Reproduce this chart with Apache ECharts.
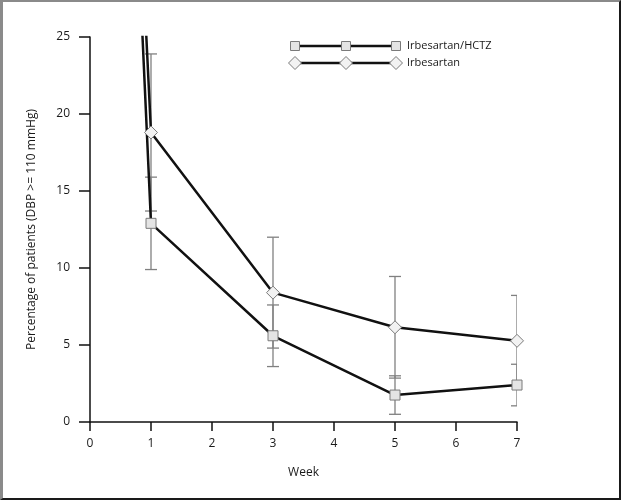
<!DOCTYPE html>
<html>
<head>
<meta charset="utf-8">
<script src="https://cdn.jsdelivr.net/npm/echarts@6/dist/echarts.min.js"></script>
<style>
html,body{margin:0;padding:0;background:#fff;}
#wrap{position:relative;width:621px;height:500px;}
#chart{width:621px;height:500px;}
#frame{position:absolute;left:0;top:0;right:0;bottom:0;box-sizing:border-box;border-left:3px solid #8a8a8a;border-top:2px solid #8a8a8a;border-right:2px solid #1a1a1a;border-bottom:2px solid #1a1a1a;pointer-events:none;}
</style>
</head>
<body>
<div id="wrap"><div id="chart"></div><div id="frame"></div></div>
<script>
var weeks = [0, 1, 3, 5, 7];
var hctzValues = [100, 12.9, 5.6, 1.75, 2.4];
var hctzErrors = [null, 3.0, 2.0, 1.25, 1.35];
var irbValues = [100, 18.8, 8.4, 6.15, 5.27];
var irbErrors = [null, 5.1, 3.6, 3.3, 2.95];
var xTicks = [0, 1, 2, 3, 4, 5, 6, 7];
var yTicks = [0, 5, 10, 15, 20, 25];
var seriesNames = ['Irbesartan/HCTZ', 'Irbesartan'];

var FONT = '"Open Sans", "DejaVu Sans", sans-serif';
var TEXT = '#1a1a1a';

function pairs(vals) { return weeks.map(function (w, i) { return [w, vals[i]]; }); }
function errData(vals, errs) {
  var out = [];
  weeks.forEach(function (w, i) { if (errs[i] != null) out.push([w, vals[i] - errs[i], vals[i] + errs[i]]); });
  return out;
}
function renderErr(params, api) {
  var x = api.value(0);
  var lo = api.coord([x, api.value(1)]);
  var hi = api.coord([x, api.value(2)]);
  var hw = 6;
  var st = { stroke: '#808080', lineWidth: 1.3 };
  return {
    type: 'group',
    children: [
      { type: 'line', shape: { x1: lo[0], y1: lo[1], x2: hi[0], y2: hi[1] }, style: st },
      { type: 'line', shape: { x1: lo[0] - hw, y1: lo[1], x2: lo[0] + hw, y2: lo[1] }, style: st },
      { type: 'line', shape: { x1: hi[0] - hw, y1: hi[1], x2: hi[0] + hw, y2: hi[1] }, style: st }
    ]
  };
}

function legendRow(y, symbol, label) {
  var els = [{ type: 'line', shape: { x1: 295, y1: y, x2: 396, y2: y }, style: { stroke: '#111', lineWidth: 2.5 } }];
  [295, 346, 396].forEach(function (x) {
    if (symbol === 'rect') {
      els.push({ type: 'rect', shape: { x: x - 4.5, y: y - 4.5, width: 9, height: 9 }, style: { fill: '#e4e4e4', stroke: '#7a7a7a', lineWidth: 1 } });
    } else {
      els.push({ type: 'polygon', shape: { points: [[x - 6.5, y], [x, y - 6.5], [x + 6.5, y], [x, y + 6.5]] }, style: { fill: '#f2f2f2', stroke: '#7a7a7a', lineWidth: 1 } });
    }
  });
  els.push({ type: 'text', style: { x: 407, y: y, text: label, fill: TEXT, font: '11px ' + FONT, textVerticalAlign: 'middle' } });
  return els;
}

var chart = echarts.init(document.getElementById('chart'), null, { renderer: 'canvas' });
chart.setOption({
  animation: false,
  backgroundColor: '#fff',
  grid: { left: 90, right: 104, top: 37, bottom: 78 },
  xAxis: {
    type: 'value', min: 0, max: 7, interval: 1,
    name: 'Week', nameLocation: 'middle', nameGap: 45,
    nameTextStyle: { color: TEXT, fontSize: 12, fontFamily: FONT },
    axisLine: { show: true, onZero: false, lineStyle: { color: '#111', width: 1.5 } },
    axisTick: { show: true, length: 9, lineStyle: { color: '#111', width: 1.5 } },
    axisLabel: { color: TEXT, fontSize: 12, fontFamily: FONT, margin: 16,
      formatter: function (v) { return xTicks.indexOf(v) >= 0 ? String(v) : ''; } },
    splitLine: { show: false }
  },
  yAxis: {
    type: 'value', min: 0, max: 25, interval: 5,
    name: 'Percentage of patients (DBP >= 110 mmHg)', nameLocation: 'middle', nameGap: 52,
    nameTextStyle: { color: TEXT, fontSize: 12, fontFamily: FONT },
    axisLine: { show: true, lineStyle: { color: '#111', width: 1.5 } },
    axisTick: { show: true, length: 11, lineStyle: { color: '#111', width: 1.5 } },
    axisLabel: { color: TEXT, fontSize: 12, fontFamily: FONT, margin: 20,
      formatter: function (v) { return yTicks.indexOf(v) >= 0 ? String(v) : ''; } },
    splitLine: { show: false }
  },
  series: [
    { type: 'custom', name: seriesNames[0] + ' err', renderItem: renderErr, data: errData(hctzValues, hctzErrors), z: 1, clip: true },
    { type: 'custom', name: seriesNames[1] + ' err', renderItem: renderErr, data: errData(irbValues, irbErrors), z: 1, clip: true },
    { type: 'line', name: seriesNames[0], data: pairs(hctzValues), clip: true, z: 3,
      symbol: 'rect', symbolSize: 10, showAllSymbol: true,
      lineStyle: { color: '#111', width: 2.5 },
      itemStyle: { color: '#e4e4e4', borderColor: '#7a7a7a', borderWidth: 1 } },
    { type: 'line', name: seriesNames[1], data: pairs(irbValues), clip: true, z: 3,
      symbol: 'diamond', symbolSize: 13, showAllSymbol: true,
      lineStyle: { color: '#111', width: 2.5 },
      itemStyle: { color: '#f2f2f2', borderColor: '#7a7a7a', borderWidth: 1 } }
  ],
  graphic: legendRow(46, 'rect', seriesNames[0]).concat(legendRow(63, 'diamond', seriesNames[1]))
});
</script>
</body>
</html>
